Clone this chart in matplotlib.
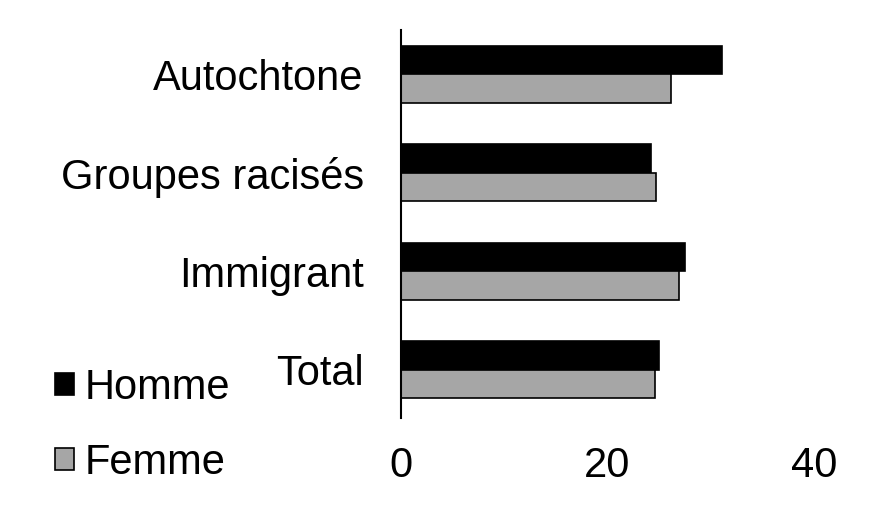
import numpy as np
import matplotlib.pyplot as plt

# Données (%)
CATEGORIES = ["Total", "Immigrant", "Groupes racisés", "Autochtone"]
HOMME = [25.0, 27.5, 24.2, 31.1]
FEMME = [24.6, 26.9, 24.7, 26.2]
XTICKS = [0, 20, 40]

BAR_H = 0.29
FONT = 30

plt.rcParams["font.family"] = ["Liberation Sans", "DejaVu Sans"]


def main():
    fig = plt.figure(figsize=(8.76, 5.22), dpi=100)
    ax = fig.add_axes([0.458, 0.199, 0.471, 0.7435])

    y = np.arange(len(CATEGORIES))
    ax.barh(y + BAR_H / 2, HOMME, height=BAR_H, color="black",
            edgecolor="black", linewidth=1.2, label="Homme")
    ax.barh(y - BAR_H / 2, FEMME, height=BAR_H, color="#a6a6a6",
            edgecolor="black", linewidth=1.2, label="Femme")

    ax.set_xlim(0, 40)
    ax.set_ylim(-0.49, 3.45)
    ax.set_xticks(XTICKS)
    ax.set_yticks(y)
    ax.set_yticklabels(CATEGORIES)
    ax.tick_params(axis="both", length=0, labelsize=FONT)
    ax.tick_params(axis="y", pad=27)
    ax.tick_params(axis="x", pad=20)

    for side in ("top", "right", "bottom"):
        ax.spines[side].set_visible(False)
    ax.spines["left"].set_linewidth(1.5)

    fig.legend(loc="upper left", bbox_to_anchor=(0.063, 0.295),
               frameon=False, fontsize=FONT, borderpad=0, borderaxespad=0,
               handlelength=0.45, handleheight=0.45, handletextpad=0.25,
               labelspacing=0.83)

    fig.savefig("out.png", dpi=100)


if __name__ == "__main__":
    main()
